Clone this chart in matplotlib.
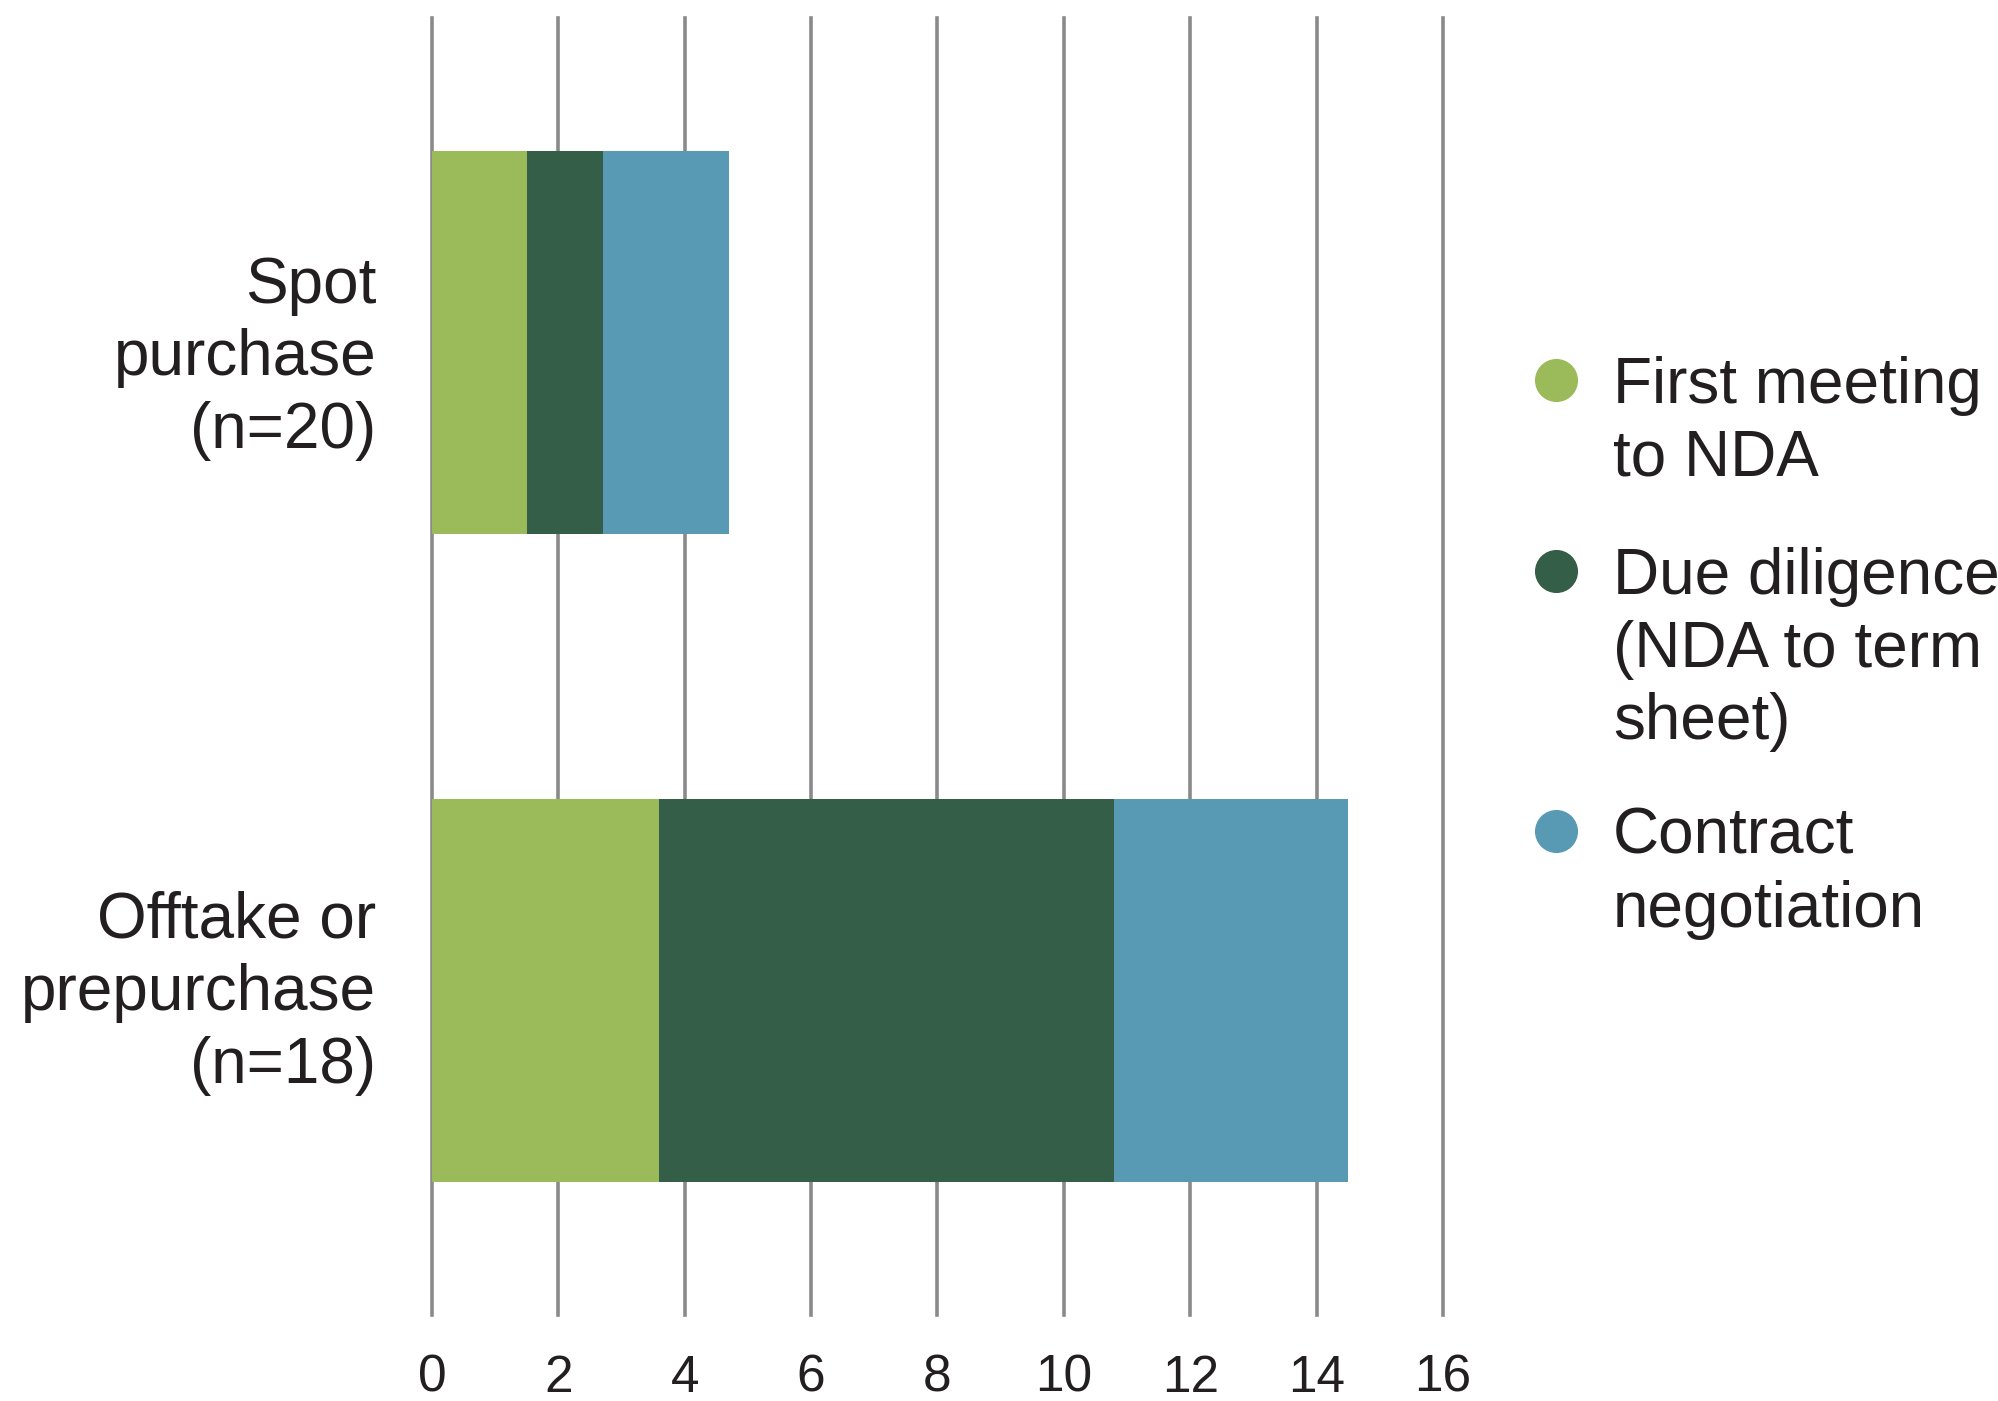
import matplotlib.pyplot as plt
from matplotlib.lines import Line2D
import numpy as np

plt.rcParams['font.family'] = ['Liberation Sans', 'DejaVu Sans']

categories = ["Spot\npurchase\n(n=20)", "Offtake or\nprepurchase\n(n=18)"]
stages = ["First meeting\nto NDA", "Due diligence\n(NDA to term\nsheet)", "Contract\nnegotiation"]
first_meeting = [1.5, 3.6]
due_diligence = [1.2, 7.2]
contract = [2.0, 3.7]
xticks = [0, 2, 4, 6, 8, 10, 12, 14, 16]

colors = ["#9bba59", "#345e48", "#589ab3"]
text_color = "#231f20"

fig = plt.figure(figsize=(19.98, 14.01), dpi=100)
ax = fig.add_axes([0.2162, 0.0614, 0.506, 0.9258])

y = np.arange(len(categories))
left = np.zeros(len(categories))
for vals, c in zip([first_meeting, due_diligence, contract], colors):
    ax.barh(y, vals, left=left, height=0.59, color=c, zorder=3)
    left += np.array(vals)

# vertical grid lines
for t in xticks:
    ax.axvline(t, color="#8a8a8a", lw=2.6, zorder=1, clip_on=False)

ax.set_xlim(0, 16)
ax.set_ylim(1.5, -0.5)
ax.set_xticks(xticks)
ax.set_xticklabels([str(t) for t in xticks], fontsize=37, color=text_color)
ax.tick_params(axis="x", length=0, pad=28)
ax.set_yticks([])
for s in ax.spines.values():
    s.set_visible(False)

# category labels, right-aligned left of the axis
label_nudge = [0.025, 0.004]
for i, lab in enumerate(categories):
    ax.text(-0.055, i + label_nudge[i], lab, transform=ax.get_yaxis_transform(),
            ha="right", va="center", fontsize=46, color=text_color, linespacing=1.27)

# legend drawn by hand so the dot sits on the first line
legend_y = [380, 571, 831]
for lab, c, py in zip(stages, colors, legend_y):
    fy = 1 - py / 1401
    fig.add_artist(Line2D([1556 / 1998], [fy], marker="o", markersize=30, color=c,
                          linestyle="none", transform=fig.transFigure))
    fig.text(1613 / 1998, 1 - (py - 24) / 1401, lab, ha="left", va="top",
             fontsize=46, color=text_color, linespacing=1.27)

fig.savefig("out.png", dpi=100, facecolor="white")
